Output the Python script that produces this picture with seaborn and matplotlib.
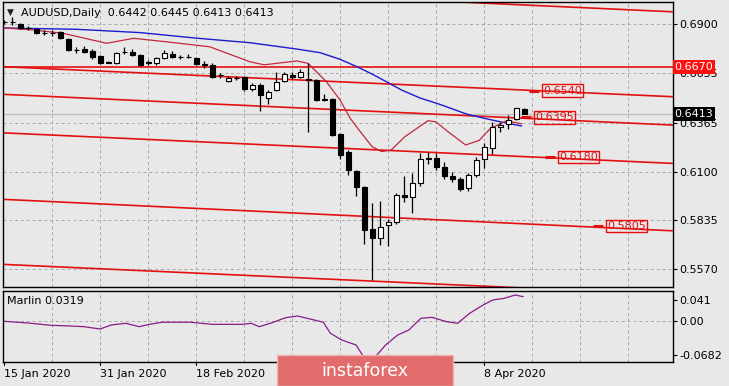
import numpy as np
import pandas as pd
import matplotlib
matplotlib.use("Agg")
import matplotlib.pyplot as plt
from matplotlib.patches import Rectangle
import seaborn as sns

# ---------------- data ----------------
opens = [0.6912, 0.6913, 0.6900, 0.6880, 0.6875, 0.6853, 0.6852, 0.6857, 0.6822, 0.6763,
         0.6768, 0.6757, 0.6728, 0.6697, 0.6688, 0.6750, 0.6752, 0.6733, 0.6694, 0.6688,
         0.6715, 0.6737, 0.6722, 0.6724, 0.6715, 0.6687, 0.6678, 0.6625, 0.6592, 0.6607,
         0.6612, 0.6547, 0.6570, 0.6498, 0.6545, 0.6590, 0.6625, 0.6613, 0.6605, 0.6598,
         0.6493, 0.6493, 0.6305, 0.6209, 0.6106, 0.6015, 0.5787, 0.5738, 0.5811, 0.5829,
         0.5973, 0.5964, 0.6040, 0.6168, 0.6173, 0.6128, 0.6076, 0.6060, 0.6010, 0.6082,
         0.6167, 0.6227, 0.6344, 0.6358, 0.6384, 0.6442]
highs = [0.6925, 0.6941, 0.6908, 0.6892, 0.6880, 0.6868, 0.6870, 0.6862, 0.6826, 0.6778,
         0.6782, 0.6765, 0.6732, 0.6702, 0.6750, 0.6775, 0.6768, 0.6738, 0.6705, 0.6725,
         0.6762, 0.6755, 0.6733, 0.6738, 0.6722, 0.6700, 0.6690, 0.6638, 0.6618, 0.6620,
         0.6615, 0.6580, 0.6580, 0.6545, 0.6640, 0.6640, 0.6640, 0.6655, 0.6690, 0.6605,
         0.6520, 0.6498, 0.6310, 0.6215, 0.6110, 0.6020, 0.5930, 0.5940, 0.5843, 0.5985,
         0.6076, 0.6094, 0.6201, 0.6205, 0.6200, 0.6150, 0.6100, 0.6070, 0.6095, 0.6178,
         0.6254, 0.6372, 0.6372, 0.6407, 0.6446, 0.6445]
lows = [0.6900, 0.6896, 0.6876, 0.6868, 0.6848, 0.6840, 0.6838, 0.6820, 0.6755, 0.6745,
        0.6742, 0.6712, 0.6684, 0.6688, 0.6682, 0.6740, 0.6728, 0.6672, 0.6680, 0.6680,
        0.6712, 0.6715, 0.6713, 0.6716, 0.6680, 0.6665, 0.6608, 0.6610, 0.6588, 0.6598,
        0.6540, 0.6540, 0.6431, 0.6470, 0.6540, 0.6585, 0.6605, 0.6608, 0.6315, 0.6485,
        0.6482, 0.6295, 0.6170, 0.6080, 0.5970, 0.5710, 0.5510, 0.5700, 0.5698, 0.5818,
        0.5933, 0.5874, 0.6024, 0.6140, 0.6110, 0.6060, 0.6043, 0.5993, 0.5995, 0.6072,
        0.6118, 0.6196, 0.6318, 0.6330, 0.6380, 0.6413]
closes = [0.6914, 0.6914, 0.6882, 0.6878, 0.6852, 0.6851, 0.6853, 0.6824, 0.6762, 0.6761,
          0.6750, 0.6722, 0.6690, 0.6692, 0.6743, 0.6751, 0.6733, 0.6680, 0.6690, 0.6715,
          0.6743, 0.6720, 0.6721, 0.6723, 0.6685, 0.6678, 0.6616, 0.6624, 0.6610, 0.6606,
          0.6547, 0.6570, 0.6516, 0.6534, 0.6589, 0.6630, 0.6615, 0.6643, 0.6598, 0.6490,
          0.6488, 0.6300, 0.6190, 0.6109, 0.6015, 0.5784, 0.5738, 0.5802, 0.5829, 0.5973,
          0.5961, 0.6040, 0.6167, 0.6173, 0.6128, 0.6075, 0.6060, 0.6005, 0.6082, 0.6162,
          0.6232, 0.6341, 0.6353, 0.6380, 0.6444, 0.6413]

# blue moving average (bar index, price)
blue_x = [0, 9, 17, 24, 30.75, 36.7, 39.5, 42, 44.1, 46, 47.8, 49.7, 52, 54.5, 57.8, 60, 62, 64.7]
blue_y = [0.6880, 0.6873, 0.6855, 0.6825, 0.6800, 0.6765, 0.6746, 0.6710, 0.6670, 0.6630,
          0.6588, 0.6543, 0.6500, 0.6465, 0.6413, 0.6390, 0.6371, 0.6348]
# thin crimson average
red_x = [0, 3.7, 7.4, 12.8, 16.2, 20.3, 25.7, 30.7, 32.5, 36.6, 38, 40.3, 42, 43.25, 44.3, 46,
         47.2, 48.4, 50.1, 53, 54, 55.4, 57.7, 59.4, 60.8, 62.8, 64.7]
red_y = [0.6880, 0.6869, 0.6851, 0.6797, 0.6824, 0.6805, 0.6778, 0.6697, 0.6680, 0.6701,
         0.6688, 0.6588, 0.6489, 0.6391, 0.6330, 0.6236, 0.6209, 0.6218, 0.6290, 0.6377,
         0.6370, 0.6320, 0.6245, 0.6270, 0.6335, 0.6376, 0.6360]

# sloped channel lines: price at left edge and at right edge of the chart
channel_left = [0.7135, 0.6670, 0.6520, 0.6311, 0.5950, 0.5597]
channel_right = [0.6968, 0.6507, 0.6353, 0.6145, 0.5779, 0.5432]
level_flat = 0.6670
bid_price = 0.6413
target_labels = ["0.6540", "0.6395", "0.6180", "0.5805"]

price_ticks = [0.6900, 0.6635, 0.6365, 0.6100, 0.5835, 0.5570]

marlin_x = [0, 3, 5.9, 8.2, 10, 12, 13.4, 15.2, 16.9, 18.1, 19.8, 23.3, 26, 29.7, 30.9, 31.9,
            33.5, 35.2, 36.7, 37.9, 39.9, 40.8, 42.2, 44, 44.8, 45.7, 46.6, 47.7, 49.2, 50.6,
            52.1, 53.5, 55.3, 56.7, 58.2, 59.9, 61.1, 62.5, 63.9, 64.9]
marlin_y = [-0.0013, -0.0047, -0.0093, -0.0106, -0.0120, -0.0166, -0.0086, -0.0053, -0.0120,
            -0.0075, -0.0031, -0.0031, -0.0073, -0.0073, -0.0053, -0.0120, -0.0040, 0.0059,
            0.0092, 0.0046, -0.0031, -0.0251, -0.0384, -0.0483, -0.0682, -0.0790, -0.0682,
            -0.0483, -0.0285, -0.0186, 0.0047, 0.0066, -0.0020, -0.0053, 0.0146, 0.0311,
            0.0410, 0.0443, 0.0509, 0.0476]
marlin_ticks = [0.041, 0.0, -0.0682]
marlin_ticklabels = ["0.041", "0.00", "-0.0682"]

# visible date labels (the two in the middle are hidden under the watermark)
date_labels = ["15 Jan 2020", "31 Jan 2020", "18 Feb 2020", "8 Apr 2020"]
date_idx = [0, 12, 24, 60]
date_ticks_all = [0, 12, 24, 36, 48, 60]

# ---------------- style ----------------
sns.set_theme(style="white")
plt.rcParams['font.family'] = ['DejaVu Sans']
BG = '#e8e8e8'
RED = '#e41010'
W, H = 729, 386

fig = plt.figure(figsize=(W / 100, H / 100), dpi=100, facecolor=BG)


def axrect(l, t, r, b):
    return [l / W, 1 - b / H, (r - l) / W, (b - t) / H]


ax = fig.add_axes(axrect(2.5, 2, 672.5, 287.3))
ax2 = fig.add_axes(axrect(2.5, 290.7, 672.5, 361.7))
XL = (-0.2, 83.56)

for a in (ax, ax2):
    a.set_facecolor(BG)
    a.set_xlim(*XL)
    for s in a.spines.values():
        s.set_color('black')
        s.set_linewidth(1.0)
    for gx in range(6, 84, 6):
        a.axvline(gx, color='#a8a8a8', lw=0.7, ls=(0, (3, 3)), zorder=0)
    a.yaxis.tick_right()
    a.tick_params(axis='y', direction='out', length=3, width=0.8, pad=2,
                  labelsize=8, colors='black')
    a.set_xticks([])

ax.set_ylim(0.54723, 0.70211)
ax.set_yticks(price_ticks)
ax.set_yticklabels([f"{v:.4f}" for v in price_ticks])
for v in price_ticks:
    ax.axhline(v, color='#a8a8a8', lw=0.7, ls=(0, (3, 3)), zorder=0)

# channel lines
for l, r in zip(channel_left, channel_right):
    sns.lineplot(x=list(XL), y=[l, r], ax=ax, color=RED, lw=1.2, zorder=2)
ax.axhline(level_flat, color=RED, lw=1.2, zorder=2)
ax.axhline(bid_price, color='#bdbdbd', lw=0.9, zorder=1)

# moving averages
sns.lineplot(x=blue_x, y=blue_y, ax=ax, color='#1c1ccc', lw=1.0, zorder=4, estimator=None)
sns.lineplot(x=red_x, y=red_y, ax=ax, color='#c2283c', lw=0.9, zorder=4, estimator=None)

# candles
o = np.array(opens); c = np.array(closes); h = np.array(highs); lo = np.array(lows)
idx = np.arange(len(o))
up = c >= o
ax.vlines(idx, lo, h, color='black', lw=0.9, zorder=5)
ax.bar(idx, np.abs(c - o), bottom=np.minimum(o, c), width=0.62,
       color=np.where(up, 'white', 'black'), edgecolor='black', linewidth=0.8, zorder=6)

# target labels on the chart
label_pos = [69.8, 68.8, 71.8, 77.8]
for lab, xi in zip(target_labels, label_pos):
    ax.text(xi, float(lab), lab, color=RED, fontsize=8, ha='center', va='center', zorder=8,
            bbox=dict(boxstyle='square,pad=0.12', fc='none', ec=RED, lw=1.0))
    ax.plot([xi - 4.2, xi - 2.9], [float(lab)] * 2, color=RED, lw=2.2, zorder=8,
            solid_capstyle='butt')

# right-side price boxes
ax.text(1.003, level_flat, "0.6670", transform=ax.get_yaxis_transform(), fontsize=8,
        color='white', ha='left', va='center', clip_on=False, zorder=10,
        bbox=dict(boxstyle='square,pad=0.18', fc='#ff1010', ec='none'))
ax.text(1.003, bid_price, "0.6413", transform=ax.get_yaxis_transform(), fontsize=8,
        color='white', ha='left', va='center', clip_on=False, zorder=10,
        bbox=dict(boxstyle='square,pad=0.18', fc='black', ec='none'))

# title
ax.text(0.006, 0.963, "\u25BC", transform=ax.transAxes, fontsize=6.5,
        color='#202020', ha='left', va='center')
ax.text(0.027, 0.961,
        f"AUDUSD,Daily  {opens[-1]:.4f} {highs[-1]:.4f} {lows[-1]:.4f} {closes[-1]:.4f}",
        transform=ax.transAxes, fontsize=8, color='black', ha='left', va='center')

# Marlin panel
ax2.set_ylim(-0.0815, 0.05946)
ax2.set_yticks(marlin_ticks)
ax2.set_yticklabels(marlin_ticklabels)
ax2.axhline(0, color='#a8a8a8', lw=0.7, ls=(0, (3, 3)), zorder=0)
sns.lineplot(x=marlin_x, y=marlin_y, ax=ax2, color='#8a1a8a', lw=0.9, estimator=None)
ax2.text(0.007, 0.86, "Marlin 0.0319", transform=ax2.transAxes, fontsize=8,
         color='black', ha='left', va='center')
ax.set_xlabel(''); ax.set_ylabel(''); ax2.set_xlabel(''); ax2.set_ylabel('')


def to_figx(xi):
    xf = ax2.transData.transform((xi, 0))[0]
    return fig.transFigure.inverted().transform((xf, 0))[0]


# date labels and ticks
for xi in date_ticks_all:
    xfig = to_figx(xi)
    fig.add_artist(plt.Line2D([xfig, xfig], [1 - 361.7 / H, 1 - 365 / H], color='black', lw=0.8))
for lab, xi in zip(date_labels, date_idx):
    fig.text(to_figx(xi), 1 - 374 / H, lab, fontsize=8, ha='left', va='center', color='black')

# watermark
fig.add_artist(Rectangle((276.6 / W, 0), (453.3 - 276.6) / W, (386 - 355) / H,
                         transform=fig.transFigure, fc='#e26b6b', ec='#f3b0b0', lw=1.0, zorder=20))
fig.text(365 / W, 1 - 371 / H, "instaforex", color='white', fontsize=12.5,
         ha='center', va='center', zorder=21)

fig.savefig("out.png", dpi=100, facecolor=BG)
